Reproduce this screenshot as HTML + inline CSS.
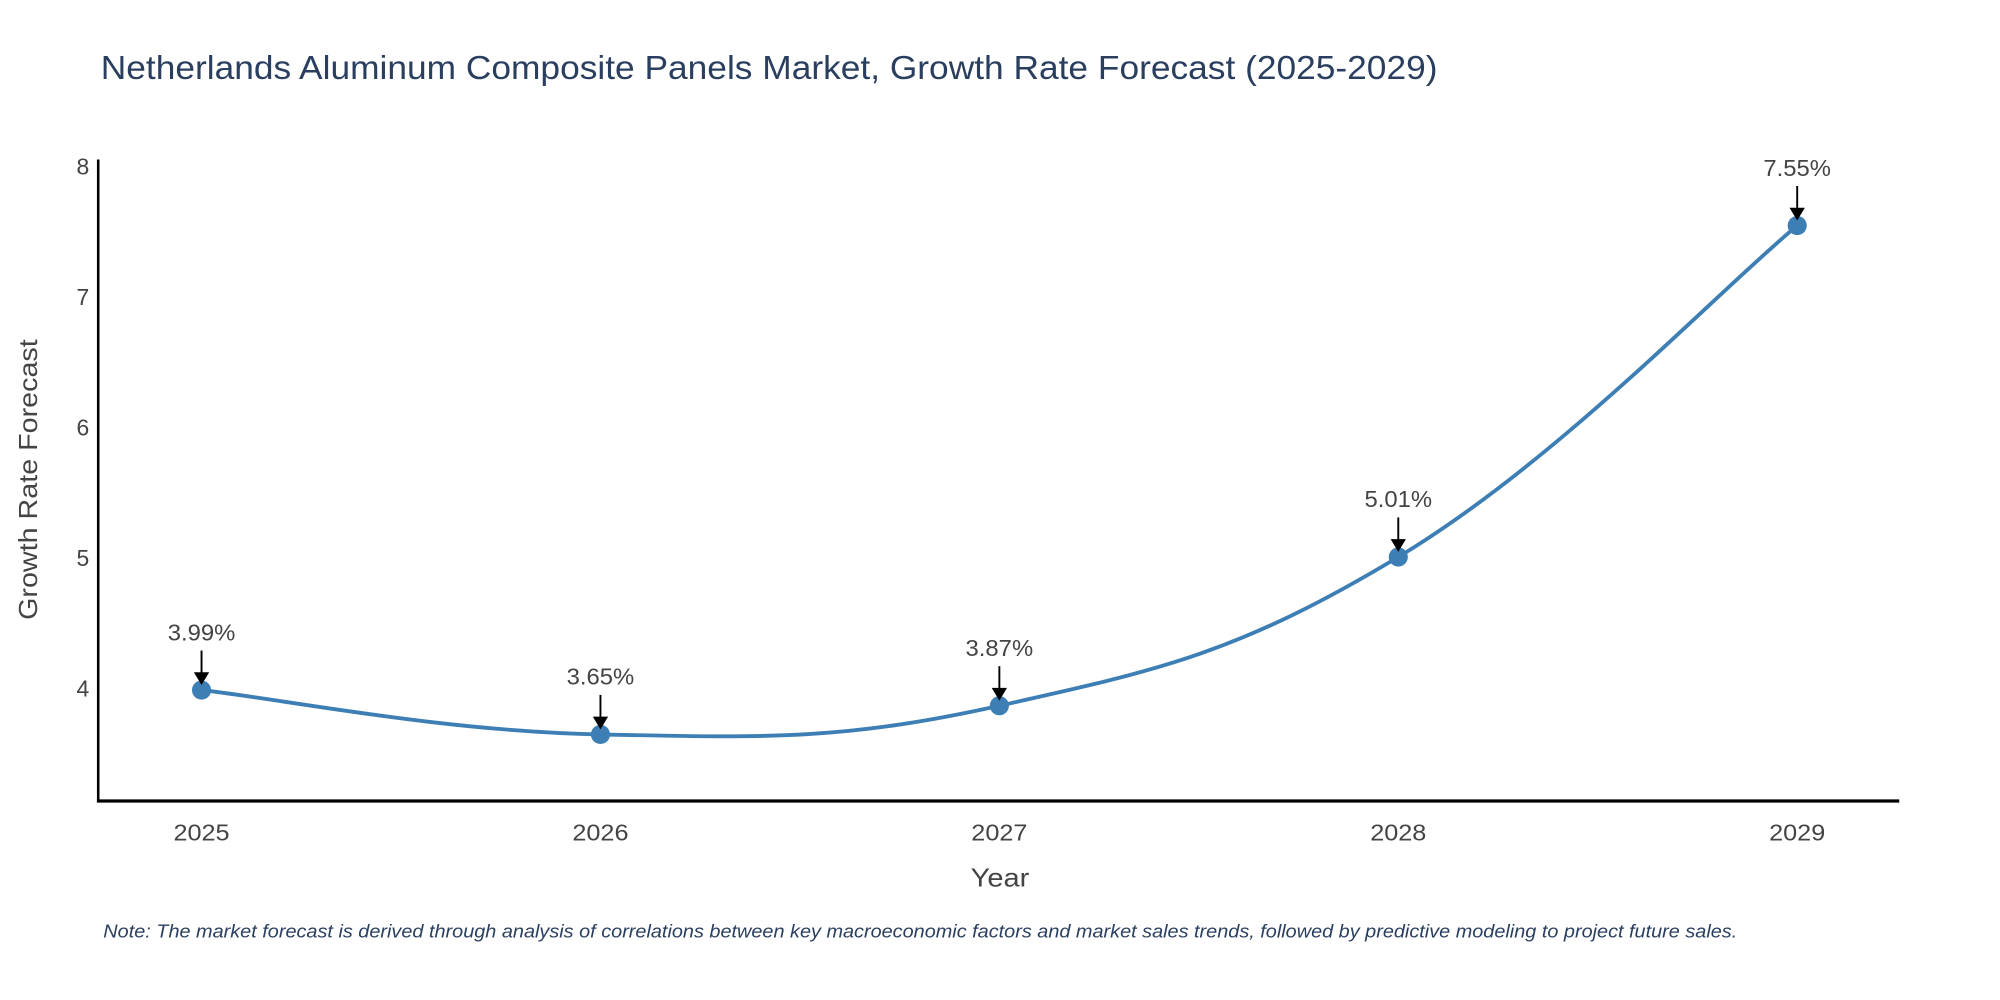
<!DOCTYPE html>
<html><head><meta charset="utf-8"><style>
html,body{margin:0;padding:0;background:#fff;}
svg{display:block;font-family:"Liberation Sans",sans-serif;}
</style></head><body>
<svg id="chart" width="2000" height="1000" viewBox="0 0 1568 784">
<text x="79" y="62" font-size="26" fill="#2a3f5f" textLength="1048" lengthAdjust="spacingAndGlyphs">Netherlands Aluminum Composite Panels Market, Growth Rate Forecast (2025-2029)</text>
<g id="yticks"></g>
<g id="xticks"></g>
<line x1="77" y1="125" x2="77" y2="629" stroke="#000" stroke-width="2"/>
<line x1="76" y1="628" x2="1489" y2="628" stroke="#000" stroke-width="2.5"/>
<path id="curve" fill="none" stroke="#3d7fb5" stroke-width="3"/>
<g id="points"></g>
<g id="annots"></g>
<text x="784" y="695" font-size="20" fill="#444" text-anchor="middle" textLength="46" lengthAdjust="spacingAndGlyphs">Year</text>
<text transform="translate(29,376) rotate(-90)" font-size="20" fill="#444" text-anchor="middle" textLength="220" lengthAdjust="spacingAndGlyphs">Growth Rate Forecast</text>
<text x="81" y="735" font-size="14.5" font-style="italic" fill="#2a3f5f" textLength="1281" lengthAdjust="spacingAndGlyphs">Note: The market forecast is derived through analysis of correlations between key macroeconomic factors and market sales trends, followed by predictive modeling to project future sales.</text>
</svg>
<script>
const years = ["2025","2026","2027","2028","2029"];
const values = [3.99, 3.65, 3.87, 5.01, 7.55];
const labels = ["3.99%","3.65%","3.87%","5.01%","7.55%"];
const yTicks = [4,5,6,7,8];

const NS = "http://www.w3.org/2000/svg";
const xS = i => 158 + i * 312.75;
const yS = v => 540 - (v - 4) * 102.3;
function mk(tag, attrs, parent, txt){
  const e = document.createElementNS(NS, tag);
  for (const k in attrs) e.setAttribute(k, attrs[k]);
  if (txt !== undefined) e.textContent = txt;
  parent.appendChild(e);
  return e;
}
const yt = document.getElementById('yticks');
yTicks.forEach(t => {
  const e = mk('text', {x: 70, y: yS(t) + 6, 'font-size': 18, fill: '#444', 'text-anchor': 'end'}, yt, String(t));
  
  
});
const xt = document.getElementById('xticks');
years.forEach((y, i) => {
  const e = mk('text', {x: xS(i), y: 659, 'font-size': 18, fill: '#444', 'text-anchor': 'middle', textLength: 44, lengthAdjust: 'spacingAndGlyphs'}, xt, y);
  
  
});
const pts = values.map((v, i) => [xS(i), yS(v)]);
let d = `M${pts[0][0]},${pts[0][1]}`;
for (let i = 0; i < pts.length - 1; i++) {
  const p0 = pts[Math.max(0, i - 1)], p1 = pts[i], p2 = pts[i + 1], p3 = pts[Math.min(pts.length - 1, i + 2)];
  const t = 1 / 5;
  const c1 = [p1[0] + (p2[0] - p0[0]) * t, p1[1] + (p2[1] - p0[1]) * t];
  const c2 = [p2[0] - (p3[0] - p1[0]) * t, p2[1] - (p3[1] - p1[1]) * t];
  d += ` C${c1[0]},${c1[1]} ${c2[0]},${c2[1]} ${p2[0]},${p2[1]}`;
}
document.getElementById('curve').setAttribute('d', d);
const pg = document.getElementById('points');
const ag = document.getElementById('annots');
pts.forEach((p, i) => {
  const c = mk('circle', {cx: p[0], cy: p[1], r: 7.5, fill: '#3d7fb5'}, pg);
  
  
  const l = mk('line', {x1: p[0], y1: p[1] - 31, x2: p[0], y2: p[1] - 12, stroke: '#000', 'stroke-width': 1.5}, ag);
  
  
  const h = mk('polygon', {points: `${p[0]-6},${p[1]-14} ${p[0]+6},${p[1]-14} ${p[0]},${p[1]-4}`, fill: '#000'}, ag);
  
  
  const t = mk('text', {x: p[0], y: p[1] - 39, 'font-size': 18, fill: '#444', 'text-anchor': 'middle', textLength: 53, lengthAdjust: 'spacingAndGlyphs'}, ag, labels[i]);
  
  
});
</script>
</body></html>
